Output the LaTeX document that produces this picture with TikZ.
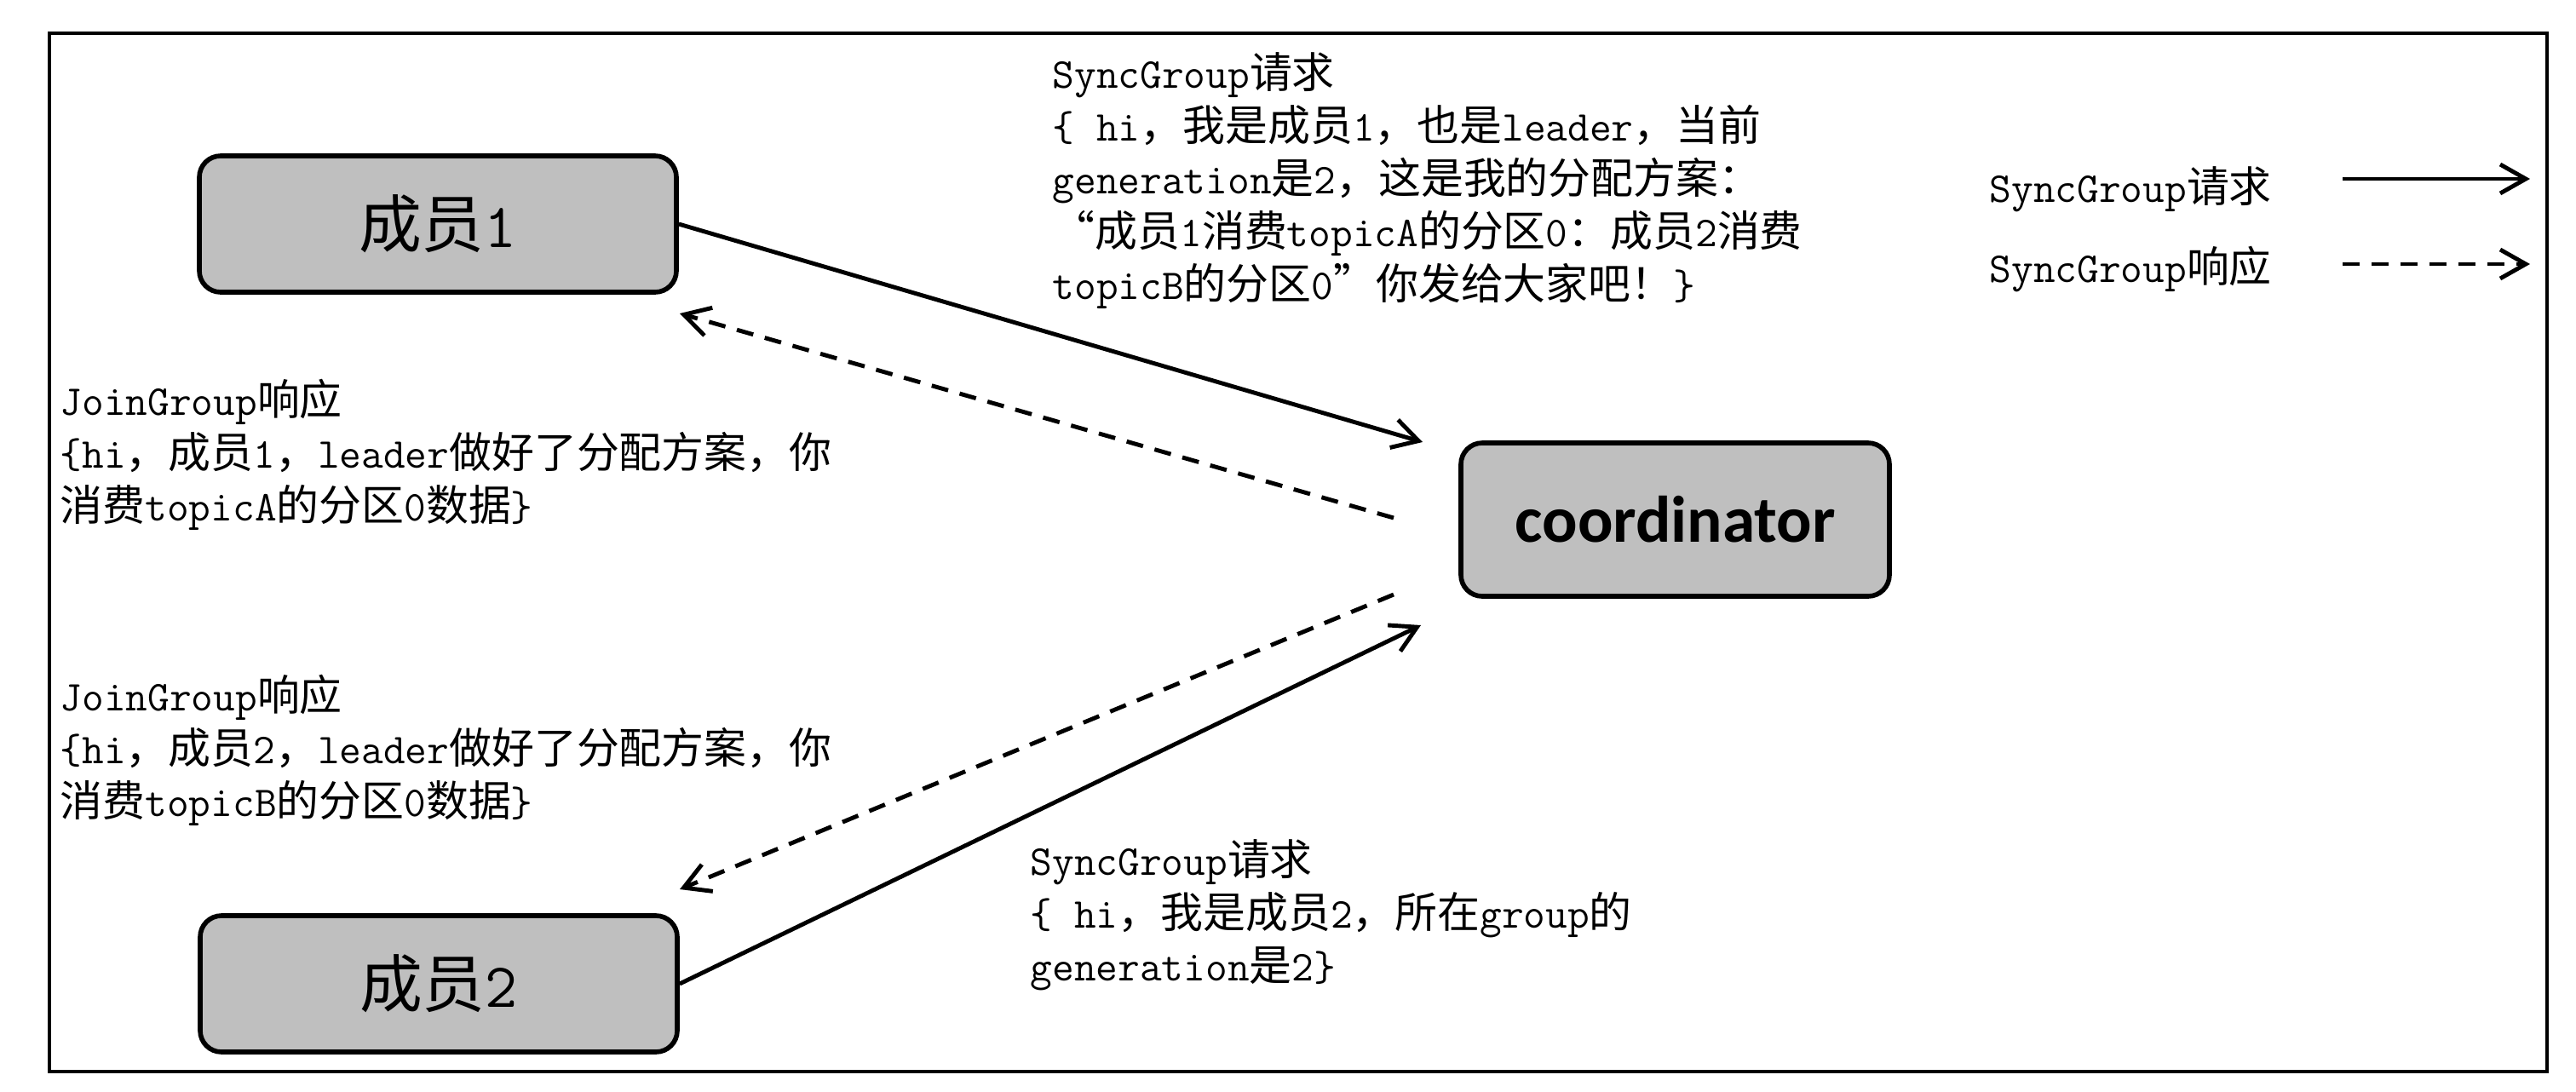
\documentclass[tikz,border=0pt]{standalone}
\usepackage{fontspec}
\newfontfamily\zhfont{Noto Sans CJK SC}
\newfontfamily\calfont{Carlito}
\newcommand\zh[1]{{\zhfont #1}}
\usetikzlibrary{arrows.meta}
\definecolor{boxgray}{RGB}{191,191,191}
\tikzset{
  txt/.style={align=left, inner sep=0pt, anchor=base west, font=\fontsize{14.2pt}{17.6pt}\ttfamily\selectfont},
  member/.style={draw=black, line width=1.6pt, fill=boxgray, rounded corners=0.25cm,
    minimum width=5.6cm, minimum height=1.6cm, inner sep=0pt, font=\fontsize{21pt}{25pt}\ttfamily\selectfont},
  coordbox/.style={member, minimum width=5.03cm, minimum height=1.8cm, font=\fontsize{22pt}{26pt}\calfont\bfseries},
  req/.style={line width=1.4pt, -{Straight Barb[length=0.3cm, width=0.34cm, line width=1.4pt]}},
  resp/.style={req, dash pattern=on 0.2cm off 0.14cm},
}
\begin{document}
\begin{tikzpicture}
\useasboundingbox (0,0) rectangle (30.24,-12.81);
\draw[line width=1pt] (0.58,-0.39) rectangle (29.90,-12.58);

\node[member] (m1) at (5.14,-2.63) {\zh{成员}1};
\node[member] (m2) at (5.15,-11.55) {\zh{成员}2};
\node[coordbox] (co) at (19.665,-6.10) {coordinator};

\coordinate (t1) at (16.70,-5.19);
\coordinate (d1s) at (16.36,-6.08);
\coordinate (d1e) at (7.98,-3.68);
\coordinate (d2s) at (16.36,-6.98);
\coordinate (d2e) at (7.98,-10.44);
\coordinate (t2) at (16.68,-7.34);

\draw[req] (m1.east) -- (t1);
\draw[resp] (d1s) -- (d1e);
\draw[resp] (d2s) -- (d2e);
\draw[req] (m2.east) -- (t2);

% anchor: baseline of the last line
\node[txt] (sg1) at (12.35,-3.51) {SyncGroup\zh{请求}\\
\{ hi\zh{，我是成员}1\zh{，也是}leader\zh{，当前}\\
generation\zh{是}2\zh{，这是我的分配方案：}\\
\zh{“成员}1\zh{消费}topicA\zh{的分区}0\zh{：成员}2\zh{消费}\\
topicB\zh{的分区}0\zh{”你发给大家吧！}\}};

\node[txt] (jg1) at (0.70,-6.11) {JoinGroup\zh{响应}\\
\{hi\zh{，成员}1\zh{，}leader\zh{做好了分配方案，你}\\
\zh{消费}topicA\zh{的分区}0\zh{数据}\}};

\node[txt] (jg2) at (0.70,-9.58) {JoinGroup\zh{响应}\\
\{hi\zh{，成员}2\zh{，}leader\zh{做好了分配方案，你}\\
\zh{消费}topicB\zh{的分区}0\zh{数据}\}};

\node[txt] (sg2) at (12.09,-11.51) {SyncGroup\zh{请求}\\
\{ hi\zh{，我是成员}2\zh{，所在}group\zh{的}\\
generation\zh{是}2\}};

\node[txt] (lg1) at (23.35,-2.37) {SyncGroup\zh{请求}};
\node[txt] (lg2) at (23.35,-3.31) {SyncGroup\zh{响应}};
\coordinate (la1) at (27.50,-2.10);
\coordinate (lb1) at (29.70,-2.10);
\coordinate (la2) at (27.50,-3.10);
\coordinate (lb2) at (29.70,-3.10);
\draw[req] (la1) -- (lb1);
\draw[resp] (la2) -- (lb2);
\end{tikzpicture}
\end{document}
